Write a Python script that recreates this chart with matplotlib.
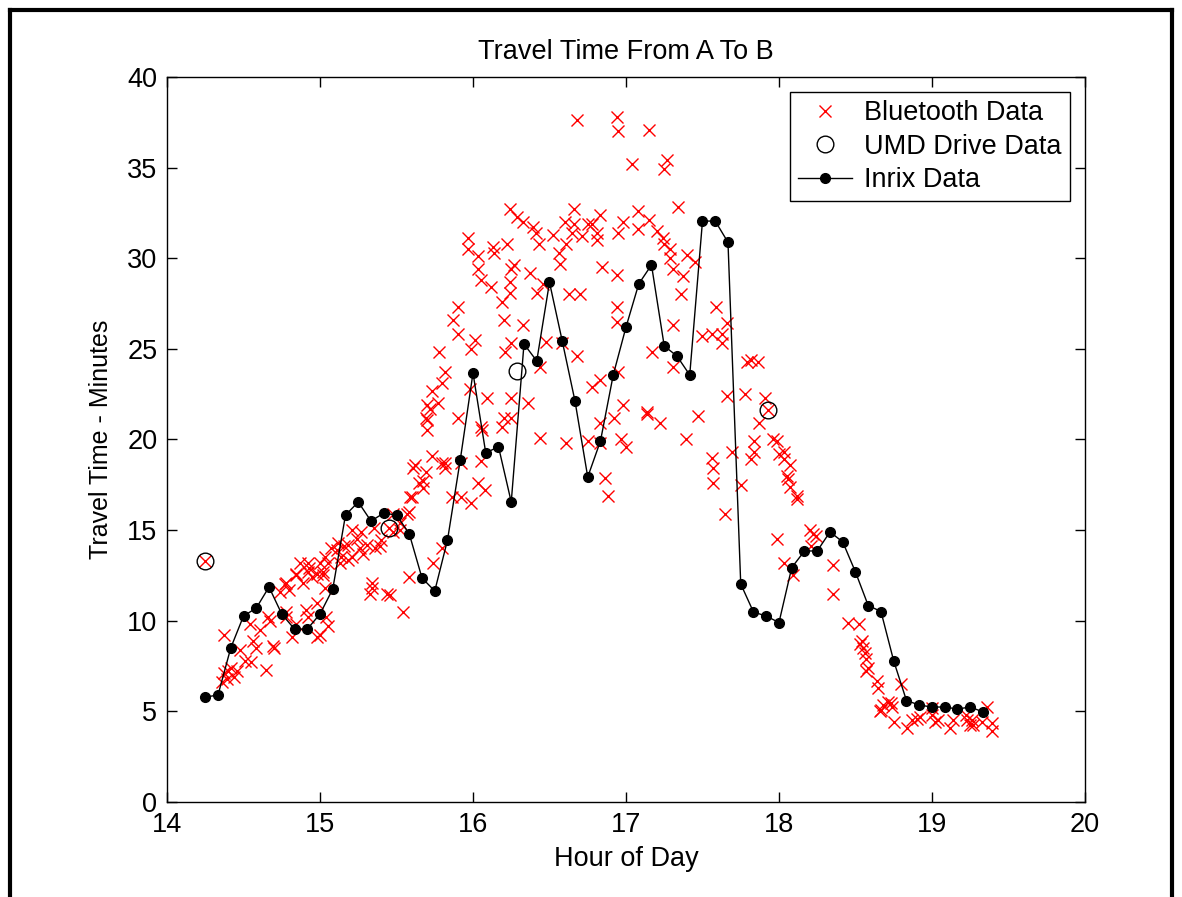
import numpy as np
import matplotlib.pyplot as plt
from matplotlib.lines import Line2D

plt.rcParams['font.family'] = ['Liberation Sans', 'DejaVu Sans']

# Inrix data, every 5 minutes from 14:15
inrix_start = 14.25
inrix_min = [5.79, 5.9, 8.5, 10.26, 10.7, 11.86, 10.37, 9.54, 9.54, 10.37,
             11.75, 15.83, 16.55, 15.5, 15.94, 15.83, 14.8, 12.36, 11.64, 14.45,
             18.87, 23.67, 19.26, 19.6, 16.55, 25.27, 24.33, 28.67, 25.43, 22.12,
             17.93, 19.92, 23.56, 26.2, 28.58, 29.63, 25.16, 24.6, 23.56, 32.05,
             32.05, 30.88, 12.03, 10.48, 10.26, 9.9, 12.93, 13.85, 13.85, 14.9,
             14.35, 12.69, 10.84, 10.51, 7.78, 5.6, 5.35, 5.24, 5.24, 5.13,
             5.24, 4.97]

# UMD drive runs
umd_hour = [14.25, 15.45, 16.29, 17.93]
umd_min = [13.3, 15.1, 23.8, 21.6]

# Bluetooth (hour, minutes), grouped by time of day
bt_early = [(14.25, 13.3), (14.37, 9.2), (14.37, 7.1), (14.39, 6.8), (14.36, 6.6), (14.42, 7.4),
            (14.48, 8.4), (14.46, 7.2), (14.51, 7.8), (14.54, 9.8), (14.55, 7.7), (14.56, 8.9),
            (14.58, 8.5), (14.61, 9.5), (14.65, 7.3), (14.67, 10.0), (14.69, 8.6), (14.70, 8.5),
            (14.66, 10.2), (14.78, 10.5), (14.78, 10.2), (14.82, 9.1), (14.84, 9.8), (14.91, 10.6),
            (14.92, 10.2), (14.98, 9.1), (15.0, 9.2), (15.05, 9.7), (15.04, 10.2), (14.98, 11.0),
            (14.74, 11.6), (14.77, 12.0), (14.80, 11.7), (14.84, 12.6), (14.89, 12.1), (14.92, 12.7),
            (14.95, 12.4), (14.98, 12.6), (15.02, 12.5), (15.03, 11.8), (14.87, 13.2), (14.92, 13.2),
            (15.0, 13.2), (15.05, 13.2), (14.84, 12.5), (14.78, 12.1), (14.93, 12.9), (15.02, 12.7),
            (14.40, 7.2), (14.44, 6.9)]
bt_mid = [(15.13, 13.2), (15.18, 13.35), (15.34, 11.8), (15.33, 11.5), (15.34, 12.1), (15.21, 15.0),
          (15.27, 14.9), (15.35, 15.1), (15.39, 14.1), (15.28, 13.7), (15.18, 14.2), (15.11, 13.9),
          (15.07, 14.0), (15.03, 13.5), (15.14, 13.5), (15.21, 13.5), (15.26, 14.0), (15.31, 14.2),
          (15.40, 14.45), (15.48, 14.9), (15.52, 15.0), (15.57, 15.9), (15.59, 16.8), (15.67, 17.3),
          (15.67, 17.7), (15.74, 13.2), (15.80, 14.0), (15.58, 12.4), (15.54, 10.5), (15.46, 11.4),
          (15.44, 11.5), (15.45, 15.1), (15.48, 15.9), (15.58, 16.0), (15.52, 15.4), (15.60, 16.8),
          (15.62, 18.6), (15.61, 18.4), (15.65, 17.6), (15.12, 14.3), (15.16, 14.1), (15.24, 14.5),
          (15.36, 14.0)]
bt_rise = [(15.87, 26.6), (15.90, 25.8), (16.01, 25.5), (15.99, 25.0), (15.78, 24.8), (15.82, 23.7),
           (15.80, 23.1), (15.73, 22.7), (15.70, 21.9), (15.72, 21.7), (15.77, 22.0), (15.69, 21.2),
           (15.70, 21.1), (15.70, 20.5), (15.90, 21.2), (15.98, 22.8), (16.09, 22.3), (16.05, 20.7),
           (16.06, 20.5), (15.73, 19.1), (15.69, 18.2), (15.80, 18.7), (15.82, 18.4), (16.05, 18.8),
           (15.86, 16.8), (15.92, 16.8), (15.99, 16.5), (16.03, 17.6), (16.08, 17.2), (15.90, 27.3),
           (15.97, 30.5), (16.03, 30.1), (16.14, 30.3), (16.22, 30.8), (16.03, 29.4), (16.05, 28.8),
           (16.12, 28.4), (16.19, 27.6), (16.24, 28.7), (16.25, 29.4), (16.27, 29.6), (16.24, 28.1),
           (16.37, 29.2), (16.42, 28.1), (16.46, 28.6), (16.25, 22.3), (16.20, 21.2), (16.25, 21.2),
           (16.19, 20.7), (16.36, 22.0), (16.44, 20.1), (16.21, 24.8), (16.25, 25.3), (16.33, 26.3),
           (16.20, 26.6), (16.44, 24.0), (15.97, 31.1), (16.24, 32.7), (16.29, 32.3), (16.33, 32.0),
           (16.39, 31.7), (16.41, 31.4), (16.13, 30.6), (16.43, 30.8), (15.92, 18.7), (15.82, 18.7)]
bt_peak = [(16.52, 31.3), (16.56, 30.3), (16.57, 29.7), (16.60, 32.0), (16.66, 32.7), (16.66, 31.9),
           (16.61, 30.8), (16.65, 31.4), (16.71, 31.2), (16.75, 31.9), (16.78, 31.9), (16.83, 32.4),
           (16.81, 31.4), (16.81, 31.0), (16.68, 37.6), (16.94, 37.8), (16.95, 37.0), (17.15, 37.1),
           (17.04, 35.2), (17.27, 35.4), (17.25, 34.9), (16.95, 31.4), (16.98, 32.0), (17.08, 32.6),
           (17.15, 32.1), (17.08, 31.6), (17.20, 31.5), (17.24, 31.1), (17.25, 30.8), (17.34, 32.8),
           (16.63, 28.0), (16.70, 28.0), (16.84, 29.5), (16.94, 29.1), (17.29, 30.5), (17.29, 30.0),
           (17.31, 29.4), (17.37, 29.0), (17.40, 30.2), (17.45, 29.8), (17.36, 28.0), (16.94, 27.3),
           (16.94, 26.5), (17.31, 26.3), (17.17, 24.8), (17.31, 24.0), (16.48, 25.4), (16.58, 25.3),
           (16.68, 24.6), (16.98, 21.9), (17.00, 19.6), (16.97, 20.0), (16.92, 21.2), (16.83, 20.9),
           (16.95, 23.7), (16.78, 22.9), (16.83, 23.3), (16.86, 17.9), (16.88, 16.9), (16.75, 19.9),
           (16.83, 19.8), (16.61, 19.8), (17.14, 21.5), (17.14, 21.4), (17.22, 20.9), (17.39, 20.0),
           (17.47, 21.3)]
bt_fall = [(17.59, 27.3), (17.66, 26.4), (17.50, 25.7), (17.56, 25.8), (17.63, 25.8), (17.63, 25.3),
           (17.66, 22.4), (17.78, 22.5), (17.79, 24.3), (17.82, 24.4), (17.86, 24.3), (17.91, 22.3),
           (17.93, 21.6), (17.87, 20.9), (17.84, 19.9), (17.96, 20.0), (17.99, 19.9), (17.84, 19.3),
           (17.82, 18.9), (18.00, 19.2), (18.03, 19.3), (18.03, 18.9), (18.07, 18.6), (18.05, 18.0),
           (18.06, 17.8), (18.07, 17.4), (18.12, 16.9), (18.12, 16.7), (17.56, 19.0), (17.57, 18.4),
           (17.57, 17.6), (17.69, 19.3), (17.75, 17.5), (17.65, 15.9), (17.99, 14.5), (18.03, 13.2),
           (18.09, 12.5), (18.20, 15.0), (18.24, 14.7), (18.21, 14.1), (18.22, 14.8)]
bt_tail = [(18.35, 13.1), (18.35, 11.5), (18.45, 9.9), (18.52, 9.8), (18.54, 8.9), (18.55, 8.5),
           (18.57, 7.9), (18.58, 7.4), (18.57, 7.2), (18.64, 6.7), (18.65, 6.3), (18.80, 6.5),
           (18.71, 5.5), (18.68, 5.35), (18.66, 5.0), (18.74, 5.25), (18.67, 5.1), (18.73, 5.45),
           (18.75, 4.4), (18.84, 4.1), (18.87, 4.5), (18.90, 4.6), (18.92, 4.7), (19.00, 4.8),
           (19.02, 4.4), (19.04, 4.5), (19.00, 5.2), (19.12, 4.1), (19.14, 4.5), (19.22, 4.8),
           (19.23, 4.5), (19.25, 4.25), (19.27, 4.25), (19.33, 4.4), (19.36, 5.25), (19.39, 4.35),
           (19.39, 3.9), (19.26, 4.5), (18.53, 8.7), (18.56, 8.2)]

bt = np.array(bt_early + bt_mid + bt_rise + bt_peak + bt_fall + bt_tail)
inrix_hour = inrix_start + np.arange(len(inrix_min)) / 12

fig = plt.figure(figsize=(11.82, 8.97), dpi=100)
ax = fig.add_axes([0.1413, 0.1059, 0.7766, 0.8083])

ax.plot(bt[:, 0], bt[:, 1], 'x', color='red', markersize=8, markeredgewidth=1,
        label='Bluetooth Data')
ax.plot(umd_hour, umd_min, 'o', markerfacecolor='none', markeredgecolor='black',
        markersize=12, markeredgewidth=1, label='UMD Drive Data')
ax.plot(inrix_hour, inrix_min, '-o', color='black', linewidth=1, markersize=7,
        label='Inrix Data')

ax.set_xlim(14, 20)
ax.set_ylim(0, 40)
ax.set_xticks(np.arange(14, 21, 1))
ax.set_yticks(np.arange(0, 41, 5))
ax.tick_params(direction='in', length=7, width=1, top=True, right=True,
               labelsize=19.5, pad=7)
for s in ax.spines.values():
    s.set_linewidth(1)

ax.set_title('Travel Time From A To B', fontsize=19.5, pad=13)
ax.set_xlabel('Hour of Day', fontsize=19.5, labelpad=6)
ax.set_ylabel('Travel Time - Minutes', fontsize=18, labelpad=10)

leg = ax.legend(loc='upper right', fontsize=19.5, fancybox=False, framealpha=1,
                edgecolor='black', borderaxespad=0.55, handlelength=2.0,
                handletextpad=0.45, labelspacing=0.28, borderpad=0.3)
leg.get_frame().set_linewidth(1)

# frame around the figure
for xs, ys in [([0.0085, 0.0085], [0, 0.989]), ([0.0085, 0.9915], [0.989, 0.989]),
               ([0.9915, 0.9915], [0, 0.989])]:
    fig.add_artist(Line2D(xs, ys, color='black', linewidth=3, transform=fig.transFigure))

fig.savefig('out.png', dpi=100)
